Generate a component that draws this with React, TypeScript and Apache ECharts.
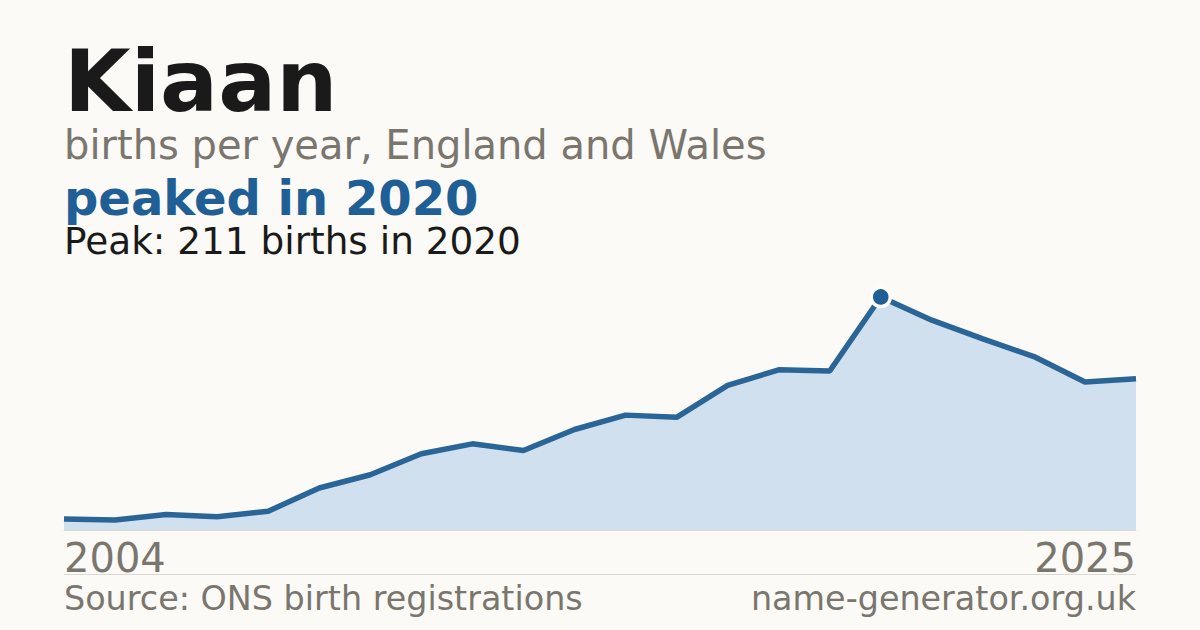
import React, { useEffect, useRef } from "react";
import * as echarts from "echarts";

const years: string[] = [
  "2004", "2005", "2006", "2007", "2008", "2009", "2010", "2011",
  "2012", "2013", "2014", "2015", "2016", "2017", "2018", "2019",
  "2020", "2021", "2022", "2023", "2024", "2025",
];

const births: number[] = [
  10, 9, 14, 12, 17, 38, 50, 69, 78, 72, 91, 104, 102, 131, 145, 144,
  211, 190, 173, 157, 134, 137,
];

const nameTitle = "Kiaan";
const subtitle = "births per year, England and Wales";
const sourceText = "Source: ONS birth registrations";
const siteText = "name-generator.org.uk";

const FONT = "DejaVu Sans";
const GRAY = "#7a766e";
const BLUE = "#1f5f96";

const App: React.FC = () => {
  const chartRef = useRef<HTMLDivElement>(null);

  useEffect(() => {
    document.body.style.margin = "0";
    if (!chartRef.current) return;

    const chart = echarts.init(chartRef.current, undefined, { renderer: "svg" });

    const peakValue = Math.max(...births);
    const peakIndex = births.indexOf(peakValue);
    const peakYear = years[peakIndex];
    const last = years.length - 1;

    const option: echarts.EChartsOption = {
      animation: false,
      backgroundColor: "#fbfaf6",
      grid: { left: 64, right: 64, top: 287, bottom: 100 },
      xAxis: {
        type: "category",
        data: years,
        boundaryGap: false,
        axisLine: { show: true, lineStyle: { color: "#dcd9d2", width: 1 } },
        axisTick: { show: false },
        axisLabel: {
          interval: (i: number) => i === 0 || i === last,
          alignMinLabel: "left",
          alignMaxLabel: "right",
          fontFamily: FONT,
          fontSize: 40,
          color: GRAY,
          margin: 8,
        },
        splitLine: { show: false },
      },
      yAxis: {
        type: "value",
        min: 0,
        max: 220,
        show: false,
        splitLine: { show: false },
      },
      series: [
        {
          type: "line",
          data: births,
          symbol: "none",
          lineStyle: { color: "#2a6598", width: 5.5 },
          areaStyle: { color: "#d0e0ef", opacity: 1 },
          z: 2,
        },
        {
          type: "scatter",
          data: [[peakIndex, peakValue]],
          symbol: "circle",
          symbolSize: 19,
          itemStyle: { color: BLUE, borderColor: "#ffffff", borderWidth: 3.5, opacity: 1 },
          z: 3,
        },
      ],
      graphic: [
        {
          type: "text",
          x: 64,
          y: 81,
          style: {
            text: nameTitle,
            font: `bold 86px "${FONT}"`,
            fill: "#1a1a1a",
            verticalAlign: "middle",
            lineHeight: 70,
          },
        },
        {
          type: "text",
          x: 64,
          y: 145,
          style: {
            text: subtitle,
            font: `40px "${FONT}"`,
            fill: GRAY,
            verticalAlign: "middle",
            lineHeight: 36,
          },
        },
        {
          type: "text",
          x: 64,
          y: 198,
          style: {
            text: `peaked in ${peakYear}`,
            font: `bold 48px "${FONT}"`,
            fill: BLUE,
            verticalAlign: "middle",
            lineHeight: 40,
          },
        },
        {
          type: "text",
          x: 64,
          y: 241,
          style: {
            text: `Peak: ${peakValue} births in ${peakYear}`,
            font: `37.4px "${FONT}"`,
            fill: "#1a1a1a",
            verticalAlign: "middle",
            lineHeight: 34,
          },
        },
        {
          type: "line",
          shape: { x1: 64, y1: 574.5, x2: 1136, y2: 574.5 },
          style: { stroke: "#dcd9d2", lineWidth: 1 },
        },
        {
          type: "text",
          x: 64,
          y: 598,
          style: {
            text: sourceText,
            font: `33.4px "${FONT}"`,
            fill: GRAY,
            verticalAlign: "middle",
          },
        },
        {
          type: "text",
          x: 1136,
          y: 598,
          style: {
            text: siteText,
            font: `33.4px "${FONT}"`,
            fill: GRAY,
            align: "right",
            verticalAlign: "middle",
          },
        },
      ],
    };

    chart.setOption(option);

    return () => {
      chart.dispose();
    };
  }, []);

  return <div ref={chartRef} style={{ width: 1200, height: 630 }} />;
};

export default App;
